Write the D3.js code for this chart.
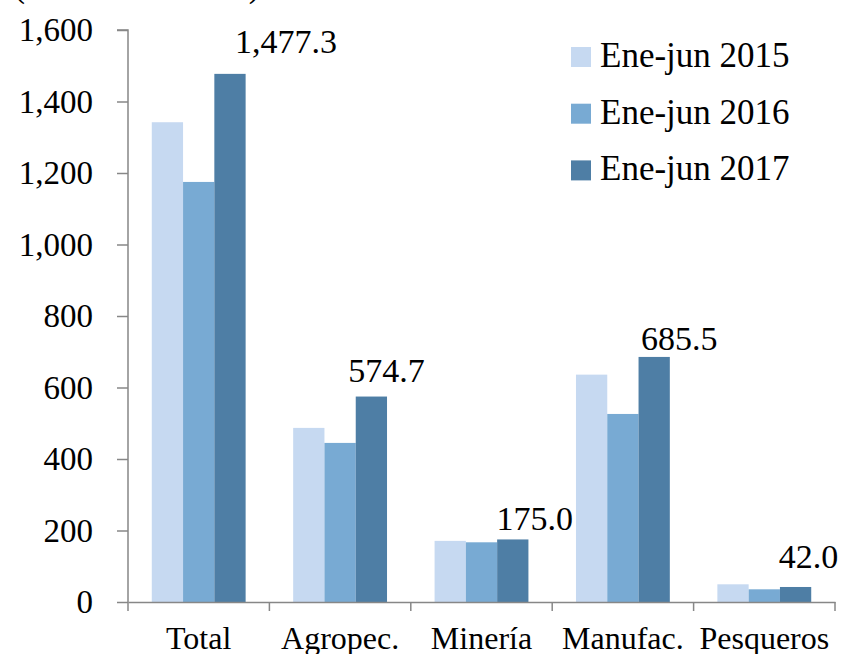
<!DOCTYPE html>
<html>
<head>
<meta charset="utf-8">
<script src="https://cdn.jsdelivr.net/npm/d3@7"></script>
<style>
  body { margin: 0; background: #fff; }
  svg { display: block; font-family: "Liberation Serif", "Times New Roman", serif; }
</style>
</head>
<body>
<svg id="chart" width="843" height="654"></svg>
<script>
const categories = ["Total", "Agropec.", "Minería", "Manufac.", "Pesqueros"];
const seriesNames = ["Ene-jun 2015", "Ene-jun 2016", "Ene-jun 2017"];
const values2015 = [1342, 487, 171, 636, 49.5];
const values2016 = [1175, 445, 167, 526, 35.5];
const values2017 = [1477.3, 574.7, 175.0, 685.5, 42.0];
const yTicks = [0, 200, 400, 600, 800, 1000, 1200, 1400, 1600];

const colors = ["#c6d9f1", "#78aad3", "#4e7ea5"];
// hand nudges for the 2017 value labels (dx from bar centre, dy above bar top)
const labelNudge = [[56, -21], [15, -15], [22, -9], [25, -7], [13, -19]];

const svg = d3.select("#chart");
const margin = { top: 30, right: 8, bottom: 52, left: 128 };
const width = 843, height = 654;

const series = [values2015, values2016, values2017];
const rows = categories.map((c, i) => ({ cat: c, vals: series.map(s => s[i]) }));

const x = d3.scaleBand()
  .domain(categories)
  .range([margin.left, width - margin.right])
  .padding(0);

const xInner = d3.scaleBand()
  .domain(d3.range(seriesNames.length))
  .range([0, x.bandwidth()])
  .paddingInner(0)
  .paddingOuter(0.76);

const y = d3.scaleLinear()
  .domain([0, 1600])
  .range([height - margin.bottom, margin.top]);

// clipped unit note at the very top
svg.append("text")
  .attr("x", 14)
  .attr("y", -3)
  .attr("font-size", 33)
  .attr("fill", "#000")
  .text("(Millones de US$)");

// bars
const groups = svg.selectAll(".grp")
  .data(rows)
  .join("g")
  .attr("class", "grp")
  .attr("transform", d => `translate(${x(d.cat)},0)`);

groups.selectAll("rect")
  .data(d => d.vals.map((v, k) => ({ v, k })))
  .join("rect")
  .attr("x", d => xInner(d.k))
  .attr("y", d => y(d.v))
  .attr("width", xInner.bandwidth())
  .attr("height", d => y(0) - y(d.v))
  .attr("fill", d => colors[d.k]);

// value labels on 2017 bars
svg.selectAll(".vlabel")
  .data(rows)
  .join("text")
  .attr("class", "vlabel")
  .attr("x", (d, i) => x(d.cat) + xInner(2) + xInner.bandwidth() / 2 + labelNudge[i][0])
  .attr("y", (d, i) => y(d.vals[2]) + labelNudge[i][1])
  .attr("text-anchor", "middle")
  .attr("font-size", 34)
  .text(d => d3.format(",.1f")(d.vals[2]));

// y axis
const yAxis = svg.append("g")
  .attr("transform", `translate(${margin.left},0)`)
  .call(d3.axisLeft(y).tickValues(yTicks).tickSize(11).tickPadding(24).tickFormat(d3.format(",")))
  .attr("font-family", null)
  .attr("font-size", 33);
yAxis.selectAll("path, line").attr("stroke", "#878787").attr("stroke-width", 1.5);
yAxis.select(".domain").attr("d", `M-11,${y(1600)}H0V${y(0)}`);
yAxis.selectAll("text").attr("fill", "#000");

// x axis
const xAxis = svg.append("g")
  .attr("transform", `translate(0,${y(0)})`)
  .call(d3.axisBottom(x).tickSize(0).tickPadding(24))
  .attr("font-family", null)
  .attr("font-size", 32);
xAxis.select(".domain").attr("stroke", "#878787").attr("stroke-width", 1.5);
xAxis.selectAll("text").attr("fill", "#000");

const bounds = categories.map(c => x(c)).concat([x(categories[categories.length - 1]) + x.bandwidth()]);
xAxis.selectAll(".bound")
  .data(bounds)
  .join("line")
  .attr("class", "bound")
  .attr("x1", d => d).attr("x2", d => d)
  .attr("y1", 0).attr("y2", 9)
  .attr("stroke", "#878787")
  .attr("stroke-width", 1.5);

// legend
const legend = svg.append("g").attr("transform", "translate(571,47)");
const item = legend.selectAll("g")
  .data(seriesNames)
  .join("g")
  .attr("transform", (d, i) => `translate(0,${i * 56.7})`);
item.append("rect")
  .attr("width", 20).attr("height", 20)
  .attr("fill", (d, i) => colors[i]);
item.append("text")
  .attr("x", 29)
  .attr("y", 20)
  .attr("font-size", 35)
  .text(d => d);
</script>
</body>
</html>
